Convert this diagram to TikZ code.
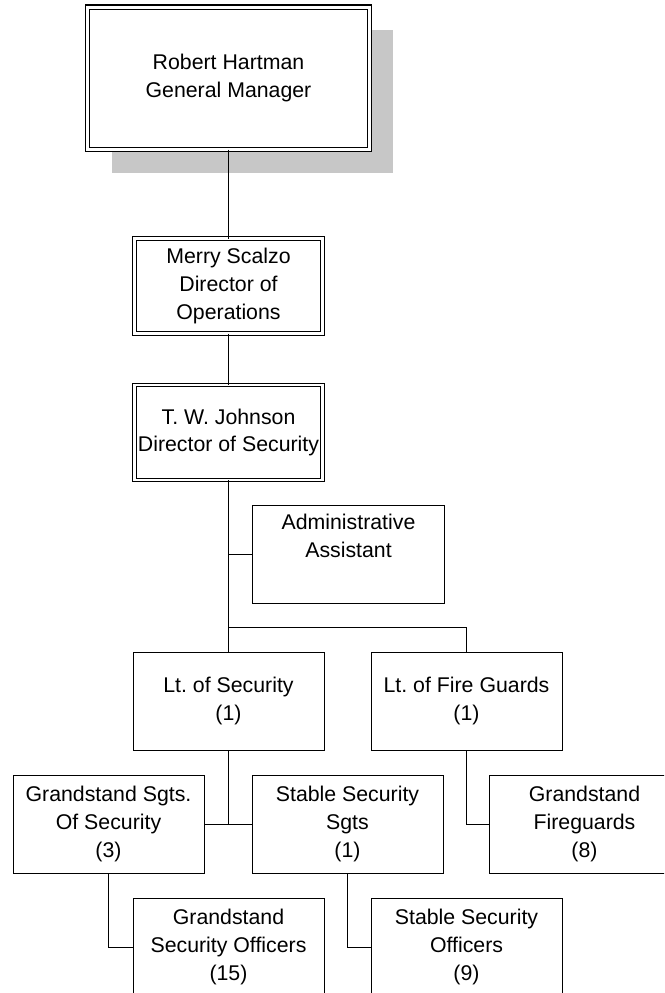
\documentclass[tikz,border=0pt]{standalone}
\usepackage{fontspec}
\setmainfont{Liberation Sans}
\frenchspacing
\usetikzlibrary{positioning,shadows}
\tikzset{
  post/.style={draw, line width=1pt, fill=white, minimum width=191pt, minimum height=98pt, inner sep=2pt, outer sep=0pt, align=center},
  head/.style={post, double, line width=1pt, double distance=2.2pt, minimum width=188pt, minimum height=95pt},
  chief/.style={head, line width=1.1pt, double distance=3pt, minimum width=281.5pt, minimum height=142.5pt, drop shadow={shadow xshift=24pt, shadow yshift=-23pt, fill=black!22, opacity=1}},
  link/.style={draw, line width=0.7pt}
}
\begin{document}
\begin{tikzpicture}[x=1pt, y=1pt, font=\fontsize{21.3}{27.8}\selectfont]
            \useasboundingbox (0,0) rectangle (664,-993);
            \clip (0,0) rectangle (664,-993);
            \node[chief] (gm) at (228.5,-78.25) {Robert Hartman\\General Manager};
            \node[head, below=89pt of gm] (ops) {Merry Scalzo\\Director of\\Operations};
            \node[head, below=51.5pt of ops] (sec) {T. W. Johnson\\Director of Security};
            \node[post, minimum width=192pt, below right=25pt and -70pt of sec] (admin) {Administrative\\Assistant\\\strut};
            \node[post, below=172pt of sec] (ltsec) {Lt. of Security\\(1)};
            \node[post, right=47pt of ltsec] (ltfire) {Lt. of Fire Guards\\(1)};
            \node[post, below right=25pt and -72pt of ltsec] (ssgt) {Stable Security\\Sgts\\(1)};
            \node[post, left=48pt of ssgt] (gsgt) {Grandstand Sgts.\\Of Security\\(3)};
            \node[post, right=46pt of ssgt] (gfire) {Grandstand\\Fireguards\\(8)};
            \node[post, below right=25pt and -71pt of gsgt] (gofc) {Grandstand\\Security Officers\\(15)};
            \node[post, right=47pt of gofc] (sofc) {Stable Security\\Officers\\(9)};
            \draw[link] (gm) -- (ops);
            \draw[link] (ops) -- (sec);
            \draw[link] (sec) -- (ltsec);
            \draw[link] (admin.west) -- (admin.west -| sec.south);
            \draw[link] (ltfire.north) |- ([yshift=25pt]ltsec.north);
            \draw[link] (ltsec.south) -- (ltsec.south |- ssgt.west);
            \draw[link] (gsgt.east) -- (ssgt.west);
            \draw[link] (ltfire.south) |- (gfire.west);
            \draw[link] (gsgt.south) |- (gofc.west);
            \draw[link] (ssgt.south) |- (sofc.west);
        \end{tikzpicture}
\end{document}
